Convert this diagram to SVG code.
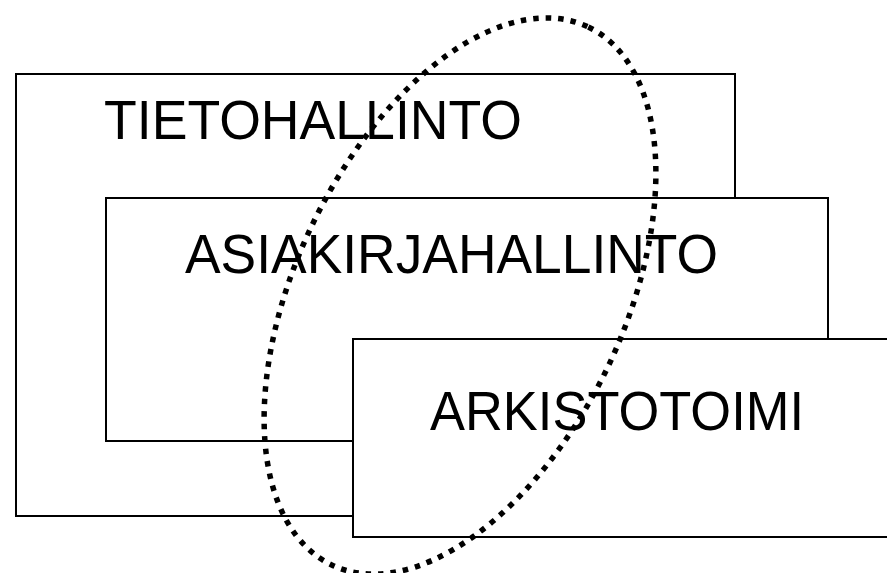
<svg xmlns="http://www.w3.org/2000/svg" width="887" height="573" viewBox="0 0 887 573">
  <style>
    .box { fill: #fff; stroke: #000; stroke-width: 2; }
    .label { font-family: "Liberation Sans", Arial, sans-serif; font-size: 55px; fill: #000; }
    .scope { fill: none; stroke: #000; stroke-width: 5.5; stroke-dasharray: 5.5 7; }
  </style>
  <rect width="887" height="573" fill="#fff"/>
  <g id="tietohallinto">
    <rect class="box" x="16" y="74" width="719" height="442"/>
    <text class="label" x="104" y="139" textLength="418" lengthAdjust="spacingAndGlyphs">TIETOHALLINTO</text>
  </g>
  <g id="asiakirjahallinto">
    <rect class="box" x="106" y="198" width="722" height="243"/>
    <text class="label" x="185" y="273" textLength="533" lengthAdjust="spacingAndGlyphs">ASIAKIRJAHALLINTO</text>
  </g>
  <g id="arkistotoimi">
    <rect class="box" x="353" y="339" width="540" height="198"/>
    <text class="label" x="430" y="430" textLength="374" lengthAdjust="spacingAndGlyphs">ARKISTOTOIMI</text>
  </g>
  <g id="connectors">
    <ellipse class="scope" cx="0" cy="0" rx="298" ry="164" transform="translate(460 296) rotate(-64.5)"/>
  </g>
</svg>
